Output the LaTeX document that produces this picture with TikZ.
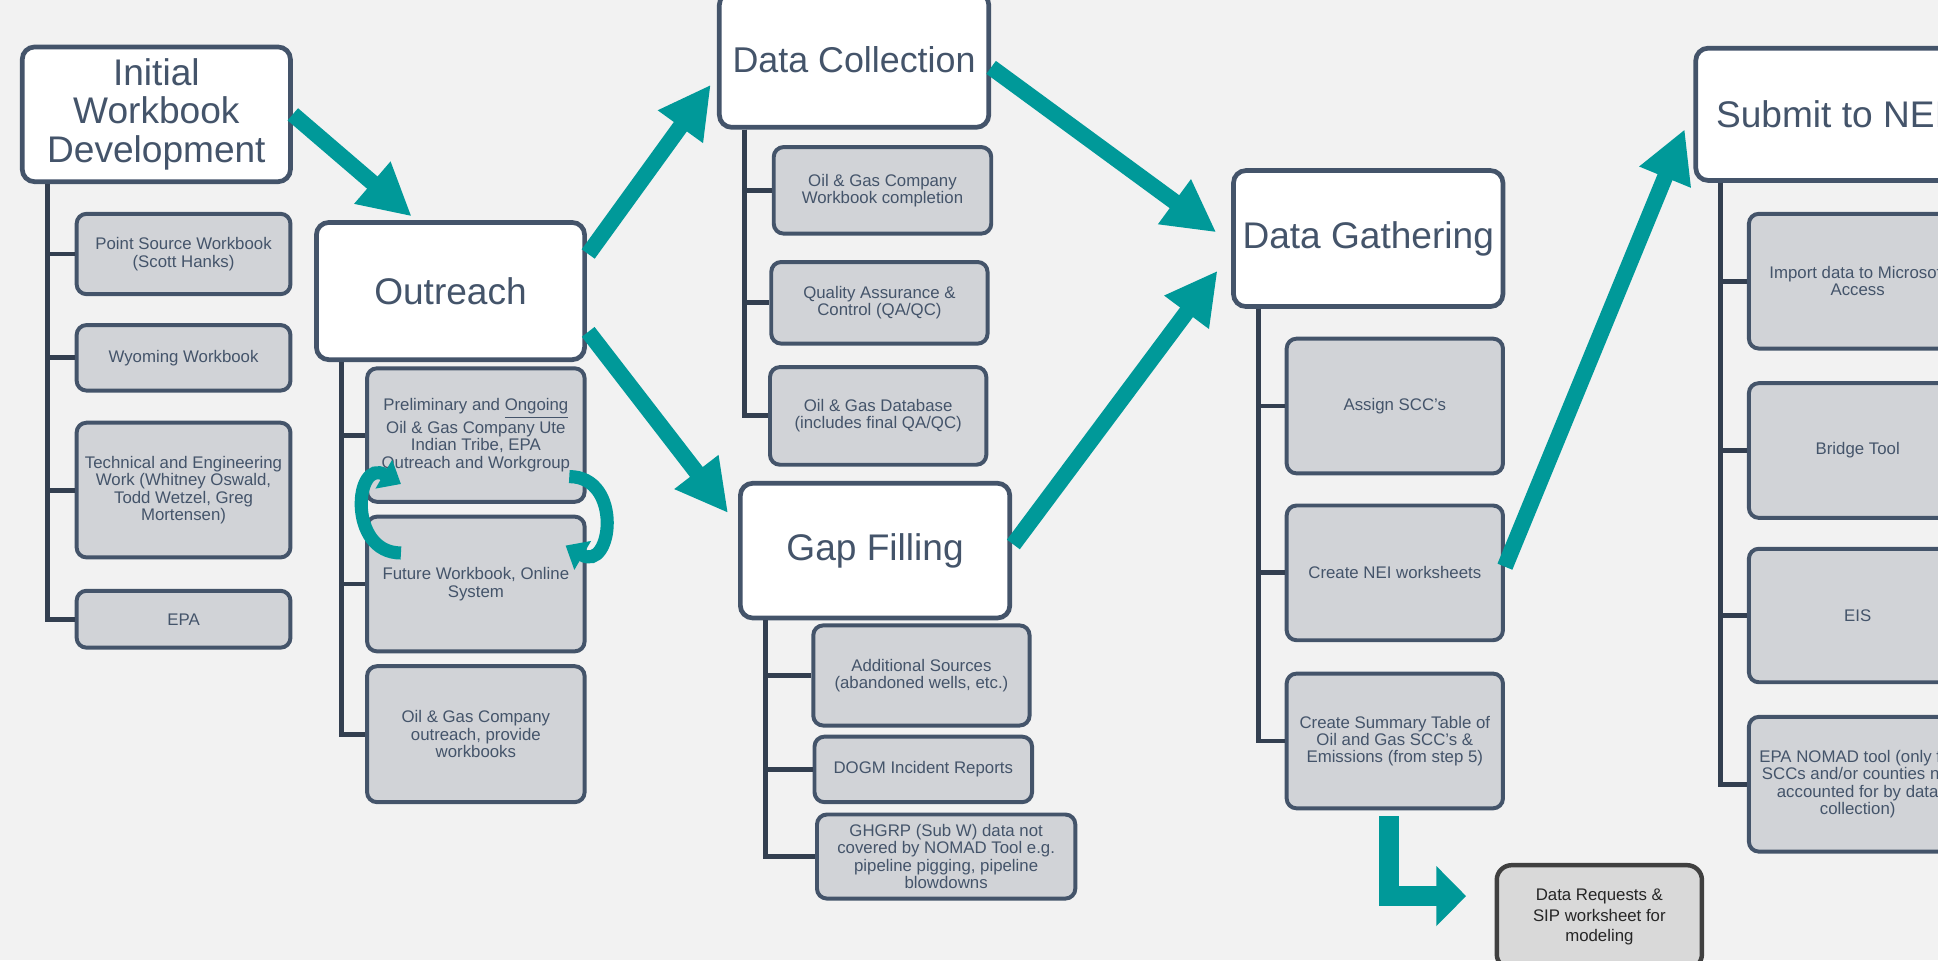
\documentclass[tikz,border=0pt]{standalone}
\usepackage{fontspec}
\setmainfont{Liberation Sans}
\usepackage{xcolor}
\usepackage{tikz}
\usetikzlibrary{shapes,arrows,positioning,calc,arrows.meta}
\definecolor{bgc}{HTML}{F2F2F2}
\definecolor{slate}{HTML}{44546A}
\definecolor{trunkc}{HTML}{333F50}
\definecolor{cellgrey}{HTML}{D1D3D7}
\definecolor{tealc}{HTML}{009999}
\definecolor{drline}{HTML}{404040}
\definecolor{drfill}{HTML}{D9D9D9}
\tikzset{
  stage/.style={draw=slate, line width=1.9pt, fill=white, rounded corners=5pt, text=slate, align=center, minimum width=109pt, minimum height=54.5pt, font=\fontsize{15}{17}\selectfont},
  task/.style={draw=slate, line width=1.6pt, fill=cellgrey, rounded corners=4pt, text=slate, align=center, minimum width=87.5pt, inner sep=1pt, font=\fontsize{6.8}{7}\selectfont},
  trunk/.style={draw=trunkc, line width=2pt},
  flow/.style={draw=tealc, line width=6.5pt, -{Triangle[length=21pt,width=21pt]}},
  swap/.style={draw=tealc, line width=5.3pt, -{Triangle[length=8pt,width=13pt]}, looseness=2},
}
\begin{document}
\begin{tikzpicture}[x=0.5pt, y=-0.5pt]
    \useasboundingbox (0,0) rectangle (1568,777);
    \fill[bgc] (0,0) rectangle (1568,777);
    \clip (0,0) rectangle (1568,777);

    \node[stage, minimum width=108.5pt, font=\fontsize{15}{15.5}\selectfont] (iwd) at (126.5,92.5) {Initial\\Workbook\\Development};
    \node[task, minimum width=86.5pt, minimum height=32.5pt] (ps) at (148.5,205.5) {Point Source Workbook\\(Scott Hanks)};
    \node[task, minimum width=86.5pt, minimum height=26.5pt] (wy) at (148.5,289.5) {Wyoming Workbook};
    \node[task, minimum width=86.5pt, minimum height=54.5pt] (te) at (148.5,396.5) {Technical and Engineering\\Work (Whitney Oswald,\\Todd Wetzel, Greg\\Mortensen)};
    \node[task, minimum width=86.5pt, minimum height=23pt] (epa) at (148.5,501) {EPA};

    \node[stage, minimum width=108.5pt, minimum height=55.5pt] (out) at (364.5,235.5) {Outreach};
    \node[task, minimum width=88pt, minimum height=54pt] (prelim) at (385,352) {Preliminary and \underline{Ongoing}\\Oil \& Gas Company Ute\\Indian Tribe, EPA\\Outreach and Workgroup};
    \node[task, minimum width=88pt, minimum height=54.5pt] (fut) at (385,472.5) {Future Workbook, Online\\System};
    \node[task, minimum width=88pt, minimum height=55pt] (ogo) at (385,594) {Oil \& Gas Company\\outreach, provide\\workbooks};

    \node[stage, font=\fontsize{14.5}{17}\selectfont] (dc) at (691,48.5) {Data Collection};
    \node[task, minimum width=88pt, minimum height=35pt] (ogw) at (714,154) {Oil \& Gas Company\\Workbook completion};
    \node[task, minimum height=33pt] (qa) at (711.5,245) {Quality Assurance \&\\Control (QA/QC)};
    \node[task, minimum height=39.5pt] (db) at (710.5,336.5) {Oil \& Gas Database\\(includes final QA/QC)};

    \node[stage] (gf) at (708,445.5) {Gap Filling};
    \node[task, minimum height=40.5pt] (add) at (745.5,546.5) {Additional Sources\\(abandoned wells, etc.)};
    \node[task, minimum width=88pt, minimum height=26.5pt] (dogm) at (747,622.5) {DOGM Incident Reports};
    \node[task, minimum width=104.5pt, minimum height=34pt] (ghg) at (765.5,693) {GHGRP (Sub W) data not\\covered by NOMAD Tool e.g.\\pipeline pigging, pipeline\\blowdowns};

    \node[stage, minimum height=55pt] (dg) at (1107,193) {Data Gathering};
    \node[task, minimum height=54.5pt] (asg) at (1128.5,328.5) {Assign SCC’s};
    \node[task, minimum height=54.5pt] (nei) at (1128.5,463.5) {Create NEI worksheets};
    \node[task, minimum height=54.5pt] (sum) at (1128.5,599.5) {Create Summary Table of\\Oil and Gas SCC’s \&\\Emissions (from step 5)};
    \node[task, draw=drline, fill=drfill, text=black!85, line width=1.8pt, rounded corners=6pt, minimum width=83pt, minimum height=42pt, font=\fontsize{6.8}{8.4}\selectfont] (dr) at (1294,742) {Data Requests \&\\SIP worksheet for\\modeling};

    \node[stage, minimum height=53.5pt] (sub) at (1481,92.5) {Submit to NEI};
    \node[task, minimum width=88pt, minimum height=54.5pt] (imp) at (1503,227.5) {Import data to Microsoft\\Access};
    \node[task, minimum width=88pt, minimum height=54.5pt] (brg) at (1503,364.5) {Bridge Tool};
    \node[task, minimum width=88pt, minimum height=54pt] (eis) at (1503,498) {EIS};
    \node[task, minimum width=88pt, minimum height=54.5pt] (nomad) at (1503,634.5) {EPA NOMAD tool (only for\\SCCs and/or counties not\\accounted for by data\\collection)};

    \foreach \p/\kids in {iwd/{ps,wy,te,epa}, out/{prelim,fut,ogo}, dc/{ogw,qa,db}, gf/{add,dogm,ghg}, dg/{asg,nei,sum}, sub/{imp,brg,eis,nomad}}
        \foreach \k in \kids
            \draw[trunk] ($(\p.south west)+(22,0)$) |- (\k.west);

    \draw[flow] (iwd.east) -- ($(out.north west)+(79,-3)$);
    \draw[flow] ($(out.east)+(1,-30)$) -- ($(dc.west)+(-5,20)$);
    \draw[flow] ($(out.east)+(1,33)$) -- ($(gf.north west)+(-8,26)$);
    \draw[flow] ($(dc.east)+(0,6)$) -- ($(dg.west)+(-12,-5)$);
    \draw[flow] ($(gf.east)+(1,-5)$) -- ($(dg.west)+(-11,26)$);
    \draw[flow] ($(nei.east)+(0,-5)$) -- ($(sub.west)+(-7,12)$);
    \draw[draw=tealc, line width=8pt, line join=miter, -{Triangle[length=12pt,width=23.5pt]}] ($(sum.south)+(-4.5,5)$) |- ($(dr.west)+(-23,-17)$);

    \draw[swap] ($(fut.north west)+(29,31)$) to[out=180,in=150] ($(prelim.south west)+(29,-16)$);
    \draw[swap] ($(prelim.south east)+(-14,-22)$) to[out=0,in=-30] ($(fut.north east)+(-17,25)$);
\end{tikzpicture}
\end{document}
